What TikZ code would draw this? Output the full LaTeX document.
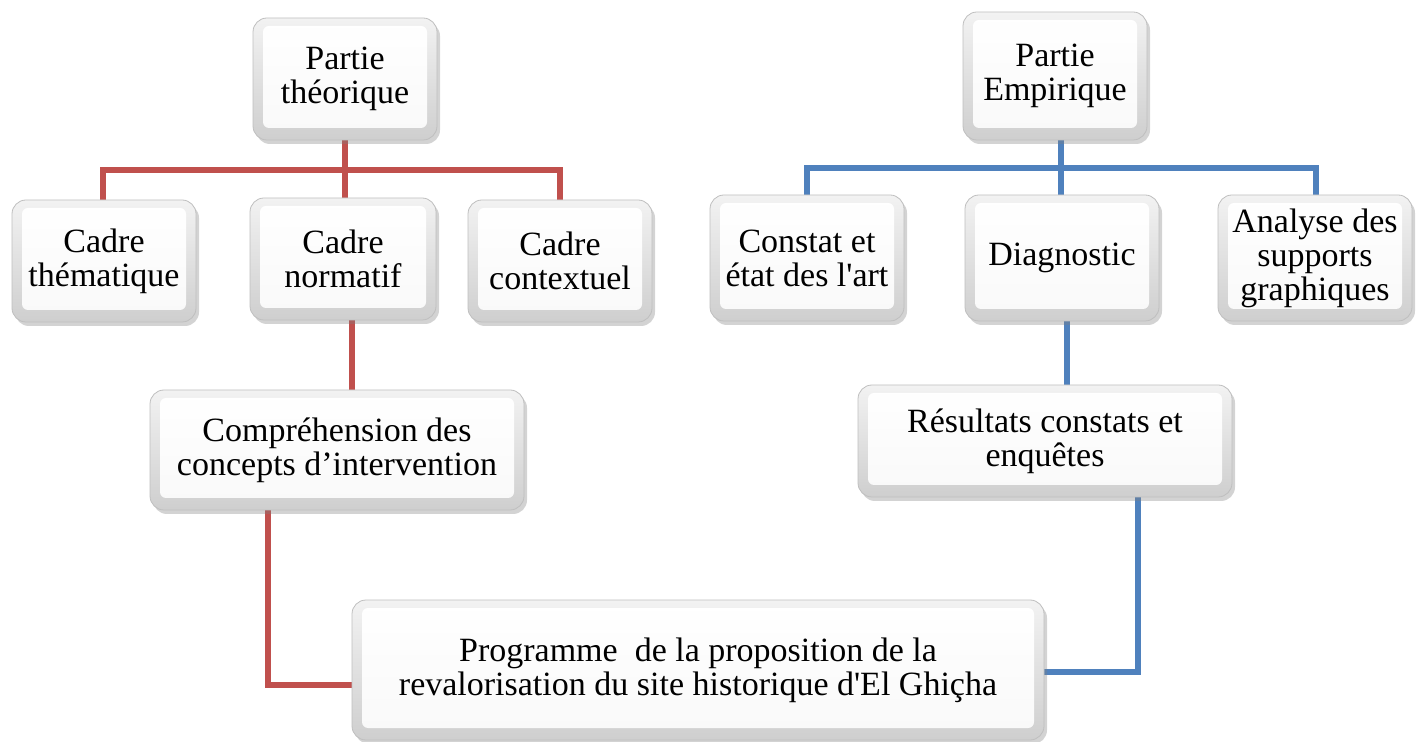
\documentclass[tikz,border=0pt]{standalone}
\usepackage{fontspec}
\setmainfont{Liberation Serif}[Ligatures=TeXOff]
\usetikzlibrary{shadows,backgrounds}
\definecolor{rl}{HTML}{C0504D}
\definecolor{bl}{HTML}{4F81BD}
\tikzset{
  box/.style={rounded corners=7pt, draw=gray!50, line width=0.4pt,
    top color=gray!10, bottom color=gray!38,
    drop shadow={shadow xshift=1.5pt, shadow yshift=-2pt, opacity=0.35, fill=gray},
    align=center, font=\fontsize{17}{17}\selectfont, inner sep=0pt,
    path picture={\shade[top color=white, bottom color=gray!5, rounded corners=3pt]
      ([shift={(5pt,-4pt)}]path picture bounding box.north west) rectangle
      ([shift={(-5pt,6pt)}]path picture bounding box.south east);}},
  rline/.style={draw=rl, line width=3pt},
  bline/.style={draw=bl, line width=3pt}
}
\begin{document}
\begin{tikzpicture}[x=0.5pt,y=-0.5pt]
\useasboundingbox (0,0) rectangle (1418,742);
\coordinate (rh) at (345,170);
\coordinate (bh) at (1061,168);
\node[box, minimum width=92pt, minimum height=61pt] (pt) at (345,79) {Partie\\théorique};
\node[box, minimum width=92pt, minimum height=64pt] (pe) at (1055,76) {Partie\\Empirique};
\node[box, minimum width=92pt, minimum height=61pt] (ct) at (104,261) {Cadre\\thématique};
\node[box, minimum width=93pt, minimum height=61pt] (cn) at (343,259) {Cadre\\normatif};
\node[box, minimum width=92pt, minimum height=61pt] (cc) at (560,261) {Cadre\\contextuel};
\node[box, minimum width=97pt, minimum height=63pt] (ce) at (807,258) {Constat et\\état des l'art};
\node[box, minimum width=97pt, minimum height=63pt] (dg) at (1062,258) {Diagnostic};
\node[box, minimum width=97pt, minimum height=63pt] (as) at (1315,258) {Analyse des\\supports\\graphiques};
\node[box, minimum width=187pt, minimum height=60pt] (cp) at (337,450) {Compréhension des\\concepts d’intervention};
\node[box, minimum width=187pt, minimum height=56pt] (rs) at (1045,441) {Résultats constats et\\enquêtes};
\node[box, minimum width=346pt, minimum height=70pt] (pg) at (698,670) {Programme\ \ de la proposition de la\\revalorisation du site historique d'El Ghiçha};
\begin{scope}[on background layer]
% red connectors
\draw[rline] (pt.south) -- (rh);
\draw[rline] (ct.north -| 103,0) |- (rh) -| (cc.north -| 560,0);
\draw[rline] (rh) -- (cn.north -| 345,0);
\draw[rline] (cn.south -| 352,0) -- (cp.north -| 352,0);
\draw[rline] (cp.south -| 268,0) |- (pg.west |- 0,685);
% blue connectors
\draw[bline] (pe.south -| 1061,0) -- (bh);
\draw[bline] (ce.north -| 807,0) |- (bh) -| (as.north -| 1316,0);
\draw[bline] (bh) -- (dg.north -| 1061,0);
\draw[bline] (dg.south -| 1067,0) -- (rs.north -| 1067,0);
\draw[bline] (rs.south -| 1138,0) |- (pg.east |- 0,672);
\end{scope}
\end{tikzpicture}
\end{document}
